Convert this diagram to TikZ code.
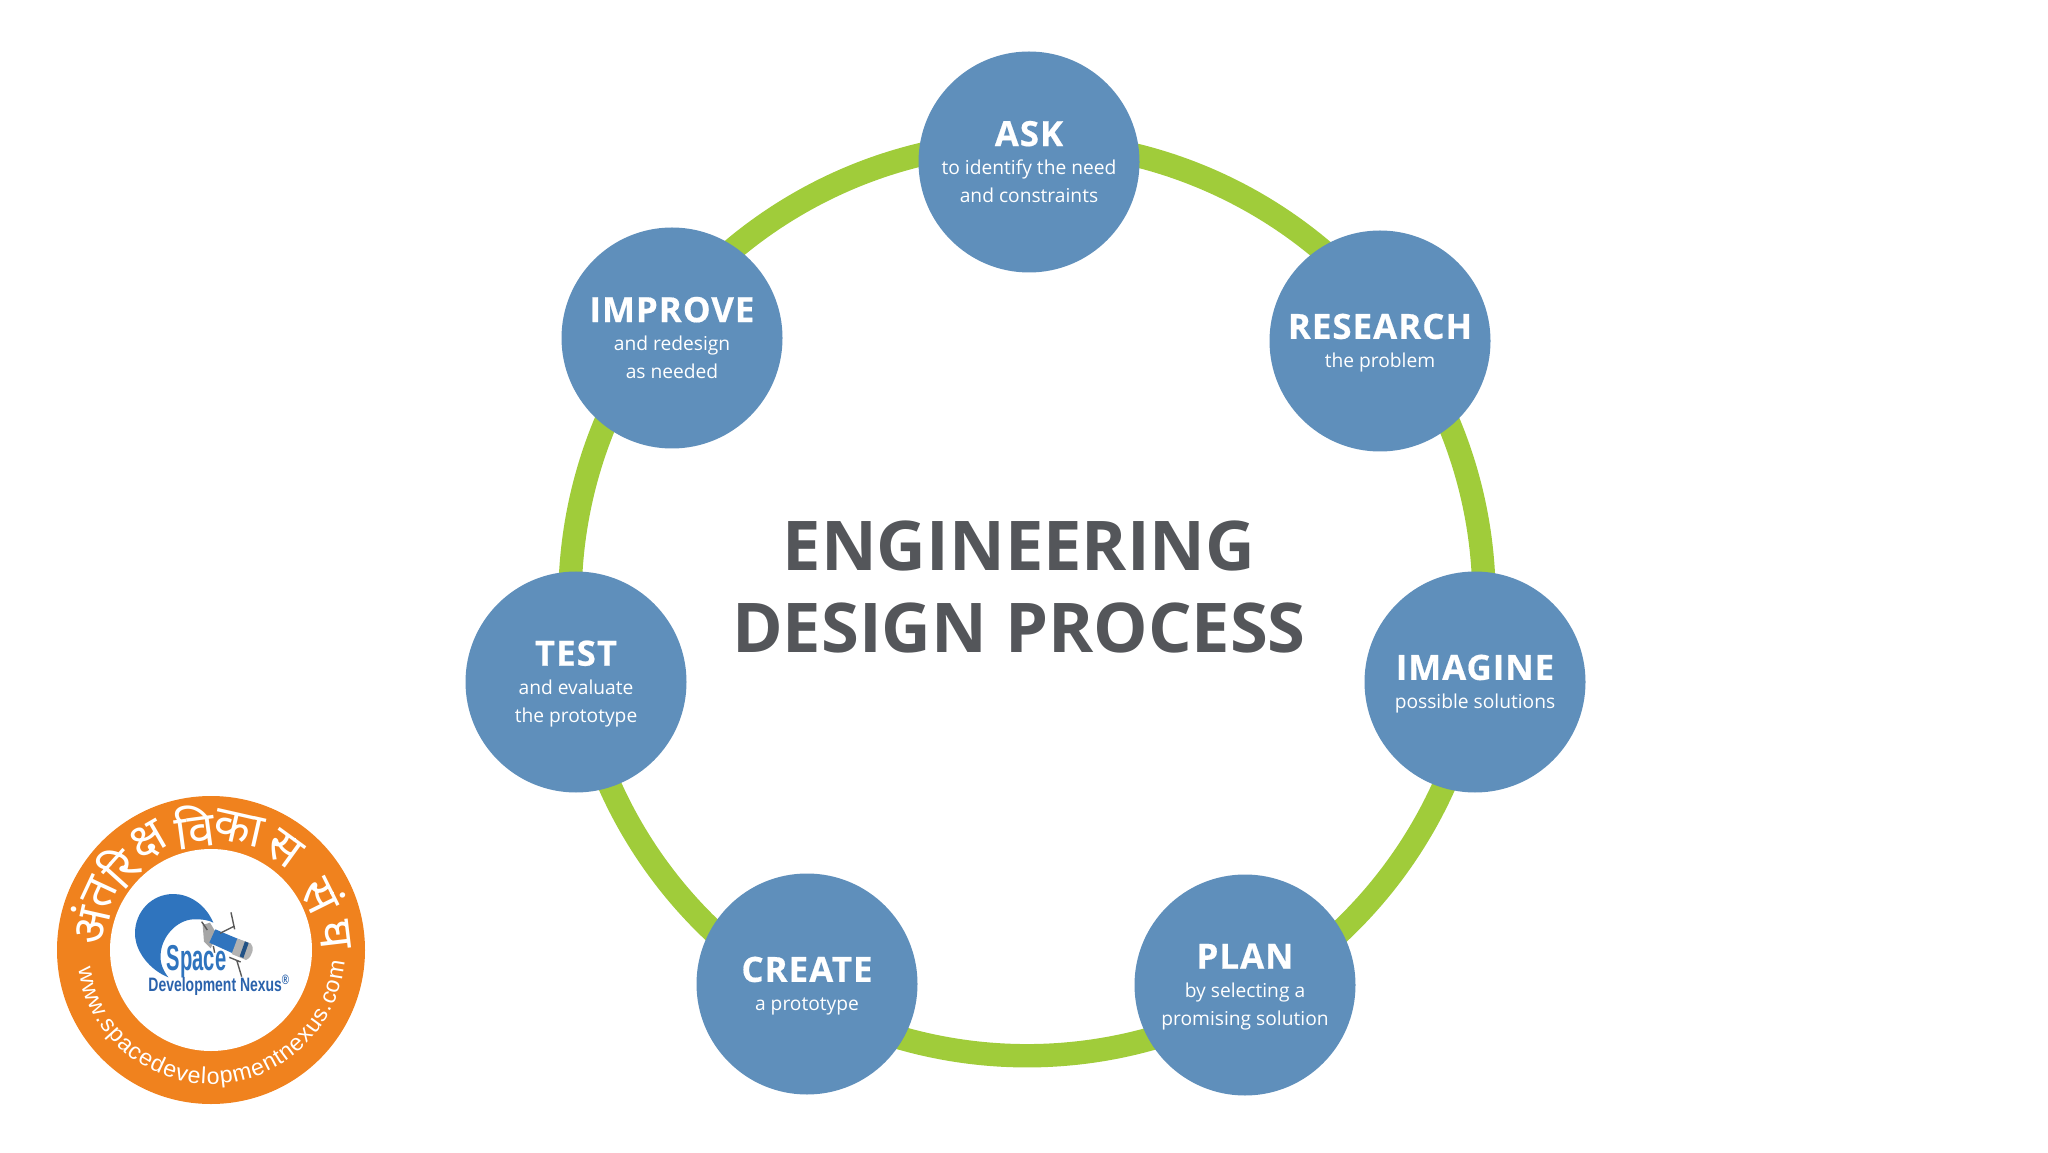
\documentclass[tikz,border=0pt]{standalone}
\usepackage{fontspec}
\usetikzlibrary{backgrounds,decorations.text}
\setmainfont{Open Sans}
\newfontfamily\titlefont[LetterSpace=3,BoldFeatures={FakeBold=0.5}]{Open Sans}
\newfontfamily\deva[Script=Devanagari]{Noto Sans}
\newfontfamily\urlfont{Liberation Sans}
\newfontfamily\logofont[FakeStretch=0.72]{Liberation Sans}
\newfontfamily\spacefont[FakeStretch=0.56]{Liberation Sans}
\definecolor{stepblue}{HTML}{5F8FBB}
\definecolor{ringgreen}{HTML}{A0CC3A}
\definecolor{titlegrey}{HTML}{54565A}
\definecolor{logoorange}{HTML}{F0821E}
\definecolor{logoblue}{HTML}{2F74BE}
\definecolor{logonavy}{HTML}{2A62AC}
\tikzset{
  x=.5pt,y=.5pt,
  stepnode/.style={circle,fill=stepblue,draw=none,minimum size=110.5pt,inner sep=0pt,
    text=white,align=center,font=\fontsize{9.6}{14.2}\selectfont},
  ringarc/.style={draw=ringgreen,line width=11.7pt},
  devachar/.style={text=white,inner sep=0pt,font=\deva\bfseries\fontsize{24}{24}\selectfont},
}
\newcommand{\steptitle}[1]{{\titlefont\bfseries\fontsize{17.4}{14.2}\selectfont #1}}
\newcommand{\lowtitle}[1]{\rule{0pt}{14.4pt}\steptitle{#1}}
\begin{document}
\begin{tikzpicture}
\useasboundingbox (0,0) rectangle (2048,1152);
% steps
\node[stepnode] (ask) at (1029,990) {\steptitle{ASK}\\to identify the need\\and constraints};
\node[stepnode] (research) at (1380,811) {\lowtitle{RESEARCH}\\the problem};
\node[stepnode] (imagine) at (1475,470) {\lowtitle{IMAGINE}\\possible solutions};
\node[stepnode] (plan) at (1245,167) {\lowtitle{PLAN}\\by selecting a\\promising solution};
\node[stepnode] (create) at (807,168) {\lowtitle{CREATE}\\a prototype};
\node[stepnode] (test) at (576,470) {\lowtitle{TEST}\\and evaluate\\the prototype};
\node[stepnode] (improve) at (672,814) {\steptitle{IMPROVE}\\and redesign\\as needed};
% ring
\coordinate (rc) at (1027,553);
\coordinate (r1) at ([shift={(90:457)}]rc);
\coordinate (r2) at ([shift={(36.2:457)}]rc);
\coordinate (r3) at ([shift={(-10.5:457)}]rc);
\coordinate (r4) at ([shift={(-60.5:457)}]rc);
\coordinate (r5) at ([shift={(-119.7:457)}]rc);
\coordinate (r6) at ([shift={(-169.6:457)}]rc);
\coordinate (r7) at ([shift={(143.7:457)}]rc);
\begin{pgfonlayer}{background}
\draw[ringarc] (r1) to[bend left=26.9,looseness=.90] (r2);
\draw[ringarc] (r2) to[bend left=23.4,looseness=.888] (r3);
\draw[ringarc] (r3) to[bend left=25,looseness=.893] (r4);
\draw[ringarc] (r4) to[bend left=29.6,looseness=.911] (r5);
\draw[ringarc] (r5) to[bend left=25,looseness=.893] (r6);
\draw[ringarc] (r6) to[bend left=23.4,looseness=.888] (r7);
\draw[ringarc] (r7) to[bend left=26.8,looseness=.90] (r1);
\end{pgfonlayer}
% title
\node[text=titlegrey,align=center,font=\bfseries\fontsize{34.3}{40.8}\selectfont] (main) at (1019,565) {ENGINEERING\\DESIGN PROCESS};
% logo
\coordinate (lc) at (211,202);
\fill[logoorange] (lc) circle[radius=154];
\fill[white] (lc) circle[radius=101];
\node[devachar,rotate=77.3] (d1) at ([shift={(168.5:125)}]lc) {अं};
\node[devachar,rotate=65] (d2) at ([shift={(153:125)}]lc) {त};
\node[devachar,rotate=48] (d3) at ([shift={(138:125)}]lc) {रि};
\node[devachar,rotate=30] (d4) at ([shift={(120:125)}]lc) {क्ष};
\node[devachar,rotate=7.6] (d5) at ([shift={(97.6:125)}]lc) {वि};
\node[devachar,rotate=-12.8] (d6) at ([shift={(77.2:125)}]lc) {का};
\node[devachar,rotate=-36] (d7) at ([shift={(54:125)}]lc) {स};
\node[devachar,rotate=-63.6] (d8) at ([shift={(26.4:125)}]lc) {सं};
\node[devachar,rotate=-83.2] (d9) at ([shift={(6.8:125)}]lc) {घ};
\path[decorate,decoration={text along path,text align={fit to path},
  text={|\urlfont\fontsize{11.6}{11.6}\selectfont\color{white}|www.spacedevelopmentnexus.com}}]
  ([shift={(188:134)}]lc) arc[start angle=188,end angle=355,radius=134];
% crescent, satellite and wordmark, in the zoomed logo grid
\begin{scope}[shift={(130,272)},x=.5pt/3,y=-.5pt/3]
\fill[logoblue] (250,128) .. controls (225,70) and (175,42) .. (130,42)
  .. controls (65,42) and (15,95) .. (15,160)
  .. controls (15,215) and (60,270) .. (115,292)
  .. controls (95,265) and (90,245) .. (92,222)
  .. controls (95,170) and (140,120) .. (190,118)
  .. controls (215,117) and (235,120) .. (250,128) -- cycle;
\fill[gray!70] (218,135) -- (240,128) -- (262,165) -- (242,205) -- (222,185) -- cycle;
\fill[logoblue] (256,148) -- (344,185) -- (326,228) -- (238,188) -- cycle;
\fill[gray!60] (322,176) -- (362,190) .. controls (374,200) and (368,232) .. (348,240) -- (305,222) -- cycle;
\fill[logoblue!70!black] (345,184) -- (356,189) -- (340,234) -- (329,229) -- cycle;
\draw[gray!70!black,line width=.7pt] (303,97) -- (314,148) (270,160) -- (314,138);
\draw[gray!70!black,line width=.7pt] (320,240) -- (335,290) (298,232) -- (332,246);
\draw[gray!70!black,line width=.7pt] (215,125) -- (232,150) (250,198) -- (254,218);
\node[text=logoblue,inner sep=0pt,font=\spacefont\bfseries\fontsize{18}{18}\selectfont] (space) at (200,245) {Space};
\node[text=logonavy,inner sep=0pt,font=\logofont\bfseries\fontsize{9.7}{10}\selectfont] (nexus) at (268,316) {Development Nexus\textsuperscript{®}};
\end{scope}
\end{tikzpicture}
\end{document}
